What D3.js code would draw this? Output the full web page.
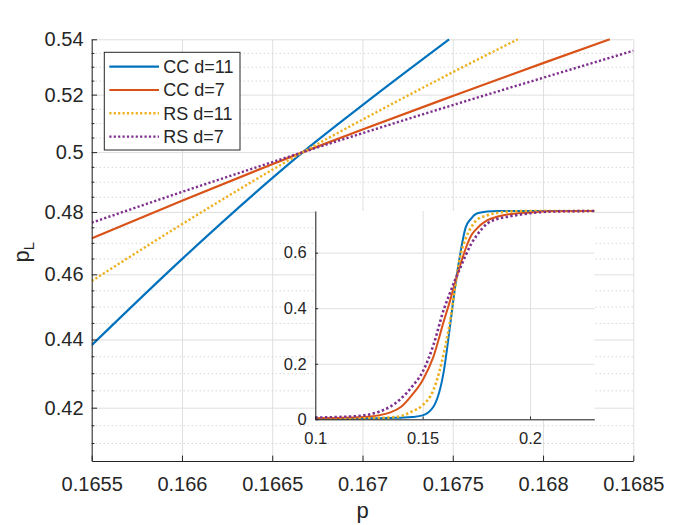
<!DOCTYPE html>
<html>
<head>
<meta charset="utf-8">
<script src="https://cdn.jsdelivr.net/npm/d3@7"></script>
<style>
body{margin:0;background:#fff;}
text{font-family:"Liberation Sans",Arial,Helvetica,sans-serif;fill:#262626;}
</style>
</head>
<body>
<svg id="chart" width="700" height="525"></svg>
<script>
// legend / series info
const seriesNames = ["CC d=11", "CC d=7", "RS d=11", "RS d=7"];
const seriesColors = ["#0072BD", "#D95319", "#EDB120", "#7E2F8E"];
const seriesDotted = [false, false, true, true];

// main plot (zoom near threshold)
const cc11P = [0.1655, 0.166, 0.1665, 0.16667, 0.167, 0.16748];
const cc11 = [0.4383, 0.4648, 0.4912, 0.5, 0.5163, 0.54];
const cc7P = [0.1655, 0.166, 0.1665, 0.16667, 0.167, 0.1675, 0.168, 0.16837];
const cc7 = [0.4714, 0.4837, 0.4959, 0.5, 0.5078, 0.5195, 0.5313, 0.54];
const rs11P = [0.1655, 0.166, 0.1665, 0.16667, 0.167, 0.1675, 0.16786];
const rs11 = [0.4579, 0.4760, 0.4940, 0.5, 0.5112, 0.5280, 0.54];
const rs7P = [0.1655, 0.166, 0.1665, 0.16667, 0.167, 0.1675, 0.168, 0.1685];
const rs7 = [0.4765, 0.4866, 0.4966, 0.5, 0.5065, 0.5163, 0.5260, 0.5358];

// inset (full range)
const pInset = [0.1, 0.11, 0.12, 0.13, 0.135, 0.14, 0.145, 0.15, 0.155, 0.16, 0.1625, 0.165,
                0.1675, 0.17, 0.1725, 0.175, 0.18, 0.185, 0.19, 0.2, 0.21, 0.23];
const cc11Inset = [0.002, 0.002, 0.003, 0.004, 0.005, 0.006, 0.008, 0.014, 0.045, 0.18, 0.32, 0.47,
                   0.595, 0.69, 0.722, 0.74, 0.748, 0.75, 0.75, 0.75, 0.75, 0.75];
const cc7Inset = [0.004, 0.005, 0.007, 0.015, 0.025, 0.045, 0.087, 0.141, 0.225, 0.357, 0.42, 0.49,
                  0.555, 0.614, 0.66, 0.685, 0.716, 0.73, 0.738, 0.745, 0.749, 0.75];
const rs11Inset = [0.002, 0.002, 0.003, 0.005, 0.007, 0.012, 0.028, 0.051, 0.105, 0.243, 0.34, 0.47,
                   0.585, 0.65, 0.69, 0.716, 0.734, 0.744, 0.748, 0.75, 0.75, 0.75];
const rs7Inset = [0.006, 0.008, 0.012, 0.028, 0.046, 0.075, 0.117, 0.171, 0.267, 0.399, 0.45, 0.5,
                  0.545, 0.59, 0.63, 0.66, 0.704, 0.722, 0.73, 0.742, 0.748, 0.75];

// ticks
const xTicks = [0.1655, 0.166, 0.1665, 0.167, 0.1675, 0.168, 0.1685];
const xTickLabels = ["0.1655", "0.166", "0.1665", "0.167", "0.1675", "0.168", "0.1685"];
const yTicks = [0.42, 0.44, 0.46, 0.48, 0.5, 0.52, 0.54];
const yTickLabels = ["0.42", "0.44", "0.46", "0.48", "0.5", "0.52", "0.54"];
const yMinor = [0.41, 0.415, 0.425, 0.43, 0.435, 0.445, 0.45, 0.455, 0.465, 0.47, 0.475,
                0.485, 0.49, 0.495, 0.505, 0.51, 0.515, 0.525, 0.53, 0.535];
const insetXTicks = [0.1, 0.15, 0.2];
const insetXLabels = ["0.1", "0.15", "0.2"];
const insetYTicks = [0, 0.2, 0.4, 0.6];
const insetYLabels = ["0", "0.2", "0.4", "0.6"];

const mainData = [
    d3.zip(cc11P, cc11), d3.zip(cc7P, cc7), d3.zip(rs11P, rs11), d3.zip(rs7P, rs7)
];
const insetData = [cc11Inset, cc7Inset, rs11Inset, rs7Inset].map(v => d3.zip(pInset, v));

let svg = d3.select("#chart"),
    mLeft = 91.7, mRight = 633.3, mTop = 39.3, mBottom = 461,
    x = d3.scaleLinear([0.1655, 0.1685], [mLeft, mRight]),
    y = d3.scaleLog([0.405, 0.54], [mBottom, mTop]);

svg.append("rect").attr("width", 700).attr("height", 525).attr("fill", "#fff");

function styleGrid(g, color, dash) {
    g.select(".domain").remove();
    g.selectAll("line").attr("stroke", color).attr("stroke-width", 1)
        .attr("stroke-dasharray", dash);
}

// main grid
svg.append("g")
    .attr("transform", "translate(0," + mBottom + ")")
    .call(d3.axisBottom(x).tickValues(xTicks).tickSize(-(mBottom - mTop)).tickFormat(""))
    .call(g => styleGrid(g, "#dfdfdf", null));
svg.append("g")
    .attr("transform", "translate(" + mLeft + ",0)")
    .call(d3.axisLeft(y).tickValues(yMinor).tickSize(-(mRight - mLeft)).tickFormat(""))
    .call(g => styleGrid(g, "#c4c4c4", "1,3"));
svg.append("g")
    .attr("transform", "translate(" + mLeft + ",0)")
    .call(d3.axisLeft(y).tickValues(yTicks).tickSize(-(mRight - mLeft)).tickFormat(""))
    .call(g => styleGrid(g, "#dfdfdf", null));

svg.append("clipPath").attr("id", "mainClip")
    .append("rect").attr("x", mLeft).attr("y", mTop - 1)
    .attr("width", mRight - mLeft + 1).attr("height", mBottom - mTop + 1);

let line = d3.line().x(d => x(d[0])).y(d => y(d[1])).curve(d3.curveMonotoneX);
svg.append("g").attr("clip-path", "url(#mainClip)")
    .selectAll("path")
    .data(mainData)
    .enter()
    .append("path")
    .attr("d", line)
    .attr("fill", "none")
    .attr("stroke", (d, i) => seriesColors[i])
    .attr("stroke-width", (d, i) => seriesDotted[i] ? 2.4 : 2.2)
    .attr("stroke-dasharray", (d, i) => seriesDotted[i] ? "2.2,2.2" : null);

// main axes (box off, ticks inside)
function styleAxis(g, size) {
    g.attr("font-family", null).attr("font-size", size);
    g.select(".domain").attr("stroke", "#262626").attr("stroke-width", 1);
    g.selectAll(".tick line").attr("stroke", "#262626").attr("stroke-width", 1);
    g.selectAll("text").attr("fill", "#262626");
}
svg.append("g")
    .attr("transform", "translate(0," + mBottom + ")")
    .call(d3.axisBottom(x).tickValues(xTicks).tickFormat((d, i) => xTickLabels[i])
        .tickSize(-5.4).tickSizeOuter(0).tickPadding(15.5))
    .call(g => styleAxis(g, 20));
svg.append("g")
    .attr("transform", "translate(" + mLeft + ",0)")
    .call(d3.axisLeft(y).tickValues(yMinor).tickFormat("").tickSize(-2.7).tickSizeOuter(0))
    .call(g => { g.select(".domain").remove(); g.selectAll("line").attr("stroke", "#262626"); });
svg.append("g")
    .attr("transform", "translate(" + mLeft + ",0)")
    .call(d3.axisLeft(y).tickValues(yTicks).tickFormat((d, i) => yTickLabels[i])
        .tickSize(-5.4).tickSizeOuter(0).tickPadding(8.2))
    .call(g => styleAxis(g, 20));

svg.append("text")
    .attr("x", (mLeft + mRight) / 2).attr("y", 518)
    .attr("text-anchor", "middle").attr("font-size", 22)
    .text("p");
let yl = svg.append("text")
    .attr("transform", "translate(29," + ((mTop + mBottom) / 2 + 2) + ") rotate(-90)")
    .attr("text-anchor", "middle").attr("font-size", 22);
yl.append("tspan").text("p");
yl.append("tspan").attr("font-size", 15).attr("dy", 5).text("L");

// legend
let legend = svg.append("g");
legend.append("rect")
    .attr("x", 104.3).attr("y", 52.3).attr("width", 135.7).attr("height", 97.7)
    .attr("fill", "#fff").attr("stroke", "#262626").attr("stroke-width", 1);
let item = legend.selectAll(".item")
    .data(seriesNames)
    .enter()
    .append("g")
    .attr("class", "item")
    .attr("transform", (d, i) => "translate(0," + (66.7 + i * 23.3) + ")");
item.append("line")
    .attr("x1", 109.3).attr("x2", 159).attr("y1", 0).attr("y2", 0)
    .attr("stroke", (d, i) => seriesColors[i])
    .attr("stroke-width", (d, i) => seriesDotted[i] ? 2.4 : 2.2)
    .attr("stroke-dasharray", (d, i) => seriesDotted[i] ? "2.2,2.2" : null);
item.append("text")
    .attr("x", 163.3).attr("dy", "0.35em").attr("font-size", 18)
    .text(d => d);

// inset axes
let iLeft = 315.3, iRight = 594.4, iTop = 211, iBottom = 419.3,
    ix = d3.scaleLinear([0.1, 0.23], [iLeft, iRight]),
    iy = d3.scaleLinear([0, 0.75], [iBottom, iTop]);
let inset = svg.append("g");
inset.append("rect")
    .attr("x", iLeft).attr("y", iTop).attr("width", iRight - iLeft).attr("height", iBottom - iTop)
    .attr("fill", "#fff");
inset.append("g")
    .attr("transform", "translate(0," + iBottom + ")")
    .call(d3.axisBottom(ix).tickValues(insetXTicks).tickSize(-(iBottom - iTop)).tickFormat(""))
    .call(g => styleGrid(g, "#dfdfdf", null));
inset.append("g")
    .attr("transform", "translate(" + iLeft + ",0)")
    .call(d3.axisLeft(iy).tickValues(insetYTicks).tickSize(-(iRight - iLeft)).tickFormat(""))
    .call(g => styleGrid(g, "#dfdfdf", null));

let iline = d3.line().x(d => ix(d[0])).y(d => iy(d[1])).curve(d3.curveMonotoneX);
inset.append("g")
    .selectAll("path")
    .data(insetData)
    .enter()
    .append("path")
    .attr("d", iline)
    .attr("fill", "none")
    .attr("stroke", (d, i) => seriesColors[i])
    .attr("stroke-width", (d, i) => seriesDotted[i] ? 2.6 : 2)
    .attr("stroke-dasharray", (d, i) => seriesDotted[i] ? "2.4,2.4" : null);

inset.append("g")
    .attr("transform", "translate(0," + iBottom + ")")
    .call(d3.axisBottom(ix).tickValues(insetXTicks).tickFormat((d, i) => insetXLabels[i])
        .tickSize(-2.8).tickSizeOuter(0).tickPadding(12.5))
    .call(g => styleAxis(g, 16.5));
inset.append("g")
    .attr("transform", "translate(" + iLeft + ",0)")
    .call(d3.axisLeft(iy).tickValues(insetYTicks).tickFormat((d, i) => insetYLabels[i])
        .tickSize(-2.8).tickSizeOuter(0).tickPadding(8.6))
    .call(g => styleAxis(g, 16.5));
</script>
</body>
</html>
